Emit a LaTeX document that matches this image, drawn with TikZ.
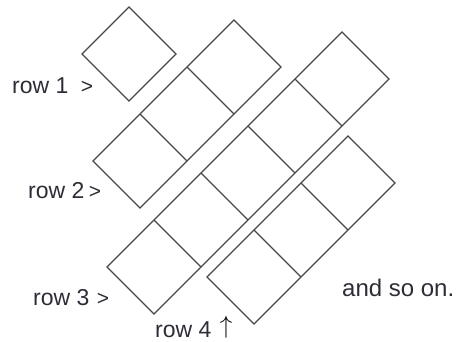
\documentclass[tikz,border=0pt]{standalone}
\usepackage{fontspec}
\setmainfont{Liberation Sans}
\usetikzlibrary{positioning}
\definecolor{linea}{RGB}{72,72,72}
\definecolor{texto}{RGB}{45,45,55}

\begin{document}
\begin{tikzpicture}[
  x=1pt, y=-1pt,
  every node/.style={inner sep=0pt, text=texto},
  casilla/.style={draw=linea, line width=1.3pt, line join=miter},
  fila/.style={font=\fontsize{23}{26}\selectfont, anchor=base west},
  marca/.style={font=\fontsize{21}{24}\selectfont, anchor=base west},
  nota/.style={font=\fontsize{24}{28}\selectfont, anchor=base west}
]
  \useasboundingbox (0,0) rectangle (464,341);

  % --- Tiras de casillas: esquina izquierda / cantidad ---
  \foreach \lx/\ly/\n in {82/54/1, 93/161/3, 107/267/5, 207/277/3}{
    \draw[casilla] (\lx,\ly) -- ++(47*\n,-47*\n) -- ++(47,47)
      -- ++(-47*\n,47*\n) -- cycle;
    \foreach \k in {1,...,\n}{
      \ifnum\k<\n
        \draw[casilla] (\lx+47*\k,\ly-47*\k) -- ++(47,47);
      \fi
    }
  }

  % --- Etiquetas de filas ---
  \node[fila] (fila1) at (12,93)  {row 1};
  \node[fila] (fila2) at (28,198) {row 2};
  \node[fila] (fila3) at (33,305) {row 3};
  \node[fila] (fila4) at (155,337) {row 4};

  \node[marca, right=12pt of fila1.base east, anchor=base west] (marca1) {>};
  \node[marca, right=4pt of fila2.base east, anchor=base west]  (marca2) {>};
  \node[marca, right=7pt of fila3.base east, anchor=base west] (marca3) {>};
  \node[font=\fontsize{34}{36}\selectfont, text=black,
        right=8pt of fila4.base east, anchor=base west, yshift=3.5pt] (flecha4) {$\uparrow$};

  % --- Texto final ---
  \node[nota] (resto) at (342,296) {and so on.};
\end{tikzpicture}
\end{document}
